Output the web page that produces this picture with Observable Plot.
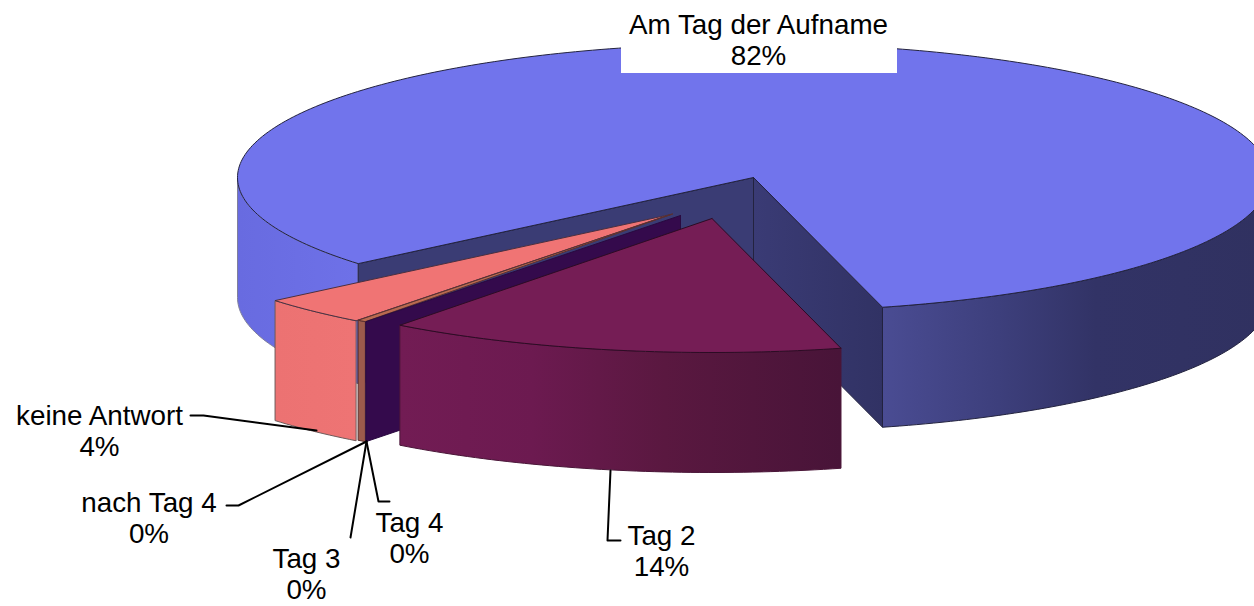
<!DOCTYPE html>
<html><head><meta charset="utf-8">
<script src="https://cdn.jsdelivr.net/npm/d3@7"></script>
<script src="https://cdn.jsdelivr.net/npm/@observablehq/plot@0.6"></script>
<style>html,body{margin:0;padding:0;background:#fff;overflow:hidden}svg{display:block}</style>
</head><body><div id="chart"></div>
<script>
// Data
const names = ["Am Tag der Aufname","Tag 2","Tag 3","Tag 4","nach Tag 4","keine Antwort"];
const shownPercent = [82,14,0,0,0,4];
const shares = [82.09,14.36,0.1,0.28,0,3.47];          // drawn slice sizes (%)
const topColors = ["#7174ec","#751d55","#340a4c","#b86a50","#b86a50","#f07474"];
const labelX = [758,661,306,409,148.5,99];
const labelY = [39,550.5,573.5,537.5,517.5,430];
const leaderX = [[],[620,607,610],[350,366],[389,378,366],[226,238,366],[190,203,316]];
const leaderY = [[],[540,540,470],[537,441],[501,501,441],[505,505,441],[415,415,430]];

// Pie geometry (units of the identity scales)
const cx = 753, cy = 177, rx = 516, ry = 134, depth = 120, startDeg = 230;
const explodeX = [0,-41.5,-73,-81,-81,-83];
const explodeY = [0,41,38,36.5,36.5,37];
const rotate = [0,0,0,-1.05,0,-1.05];   // perspective correction of thin slices

let acc = startDeg;
const slices = names.map((name,i)=>{
  const a0 = acc + rotate[i], a1 = a0 + shares[i]*3.6 ;
  acc += shares[i]*3.6;
  return {name,i,a0,a1,ox:cx+explodeX[i],oy:cy+explodeY[i],color:topColors[i]};
});
const pt = (s,deg,dz=0)=>{
  const r = deg*Math.PI/180;
  return {x:s.ox+rx*Math.sin(r), y:s.oy-ry*Math.cos(r)+dz};
};
const arc = (s,a0,a1,dz=0)=>{
  const n = Math.max(2,Math.ceil(Math.abs(a1-a0)));
  return d3.range(n+1).map(k=>pt(s,a0+(a1-a0)*k/n,dz));
};
const apex = (s,dz=0)=>({x:s.ox,y:s.oy+dz});
const closed = p=>[...p,p[0]];
const topFace = s=>closed([apex(s),...arc(s,s.a0,s.a1)]);
const outerWall = (s,a0,a1)=>closed([...arc(s,a0,a1),...arc(s,a1,a0,depth)]);
const radialWall = (s,a)=>closed([apex(s),pt(s,a),pt(s,a,depth),apex(s,depth)]);

const poly = (pts,fill,stroke="#23233f",strokeWidth=1)=>
  Plot.line(pts,{x:"x",y:"y",fill,stroke,strokeWidth,curve:"linear",strokeLinejoin:"round"});

const [am,t2,t3,t4,nt4,ka] = slices;
const grad = (id,stops)=>`<linearGradient id="${id}" x1="0" x2="1" y1="0" y2="0">`+
  stops.map(([o,c])=>`<stop offset="${o}" stop-color="${c}"/>`).join("")+`</linearGradient>`;
const defs = ()=>{
  const g = document.createElementNS("http://www.w3.org/2000/svg","g");
  const d = document.createElementNS("http://www.w3.org/2000/svg","defs");
  d.innerHTML = grad("gLeft",[[0,"#686be0"],[1,"#6e71e8"]])
    + grad("gRight",[[0,"#4a4c93"],[0.3,"#3d3f7c"],[0.55,"#323366"],[1,"#303160"]])
    + grad("gRadR",[[0,"#3a3b75"],[1,"#313264"]])
    + grad("gT2",[[0,"#721c54"],[0.3,"#6c1a50"],[0.6,"#5a1840"],[1,"#481438"]])
    + grad("gKa",[[0,"#ec7272"],[1,"#ee7474"]]);
  g.appendChild(d);
  return g;
};

const labels = names.map((n,i)=>({text:`${n}\n${shownPercent[i]}%`,x:labelX[i],y:labelY[i]}));
const leaders = leaderX.flatMap((xs,i)=>xs.map((x,k)=>({x,y:leaderY[i][k],i})));

const plot = Plot.plot({
  width:1254,height:606,margin:0,
  x:{domain:[0,1254],range:[0,1254],axis:null},
  y:{domain:[0,606],range:[0,606],axis:null},
  style:{background:"#fff",fontFamily:"'Liberation Sans',Arial,sans-serif"},
  marks:[
    defs,
    // main slice
    poly(outerWall(am,230,270),"url(#gLeft)","#80809a"),
    poly(outerWall(am,90,am.a1-360),"url(#gRight)"),
    poly(radialWall(am,am.a0),"#3a3c74"),
    poly(radialWall(am,am.a1),"url(#gRadR)"),
    poly(topFace(am),am.color),
    // salmon slice
    poly(outerWall(ka,ka.a0,ka.a1),"url(#gKa)","#6e5a5a"),
    poly(topFace(ka),ka.color,"#4a3040"),
    // thin brown slice
    poly(outerWall(t4,t4.a0,t4.a1),"#9c5a4c","#5a3030"),
    poly(topFace(t4),t4.color,"#5a3030"),
    // zero slice seen as its radial face
    poly(radialWall(t3,t3.a1),t3.color,"#2a0a40"),
    // Tag 2
    poly(outerWall(t2,t2.a0,t2.a1),"url(#gT2)","#4a1638"),
    poly(topFace(t2),t2.color,"#2c0c24"),
    // leaders
    Plot.line(leaders,{x:"x",y:"y",z:"i",stroke:"#000",strokeWidth:2,curve:"linear"}),
    // label box and labels
    Plot.rect([{x1:621,x2:897,y1:8,y2:73}],{x1:"x1",x2:"x2",y1:"y1",y2:"y2",fill:"#fff"}),
    Plot.text(labels,{x:"x",y:"y",text:"text",fontSize:27.8,lineHeight:1.115,fill:"#000",textAnchor:"middle",lineAnchor:"middle"})
  ]
});
document.getElementById("chart").append(plot);
</script></body></html>
